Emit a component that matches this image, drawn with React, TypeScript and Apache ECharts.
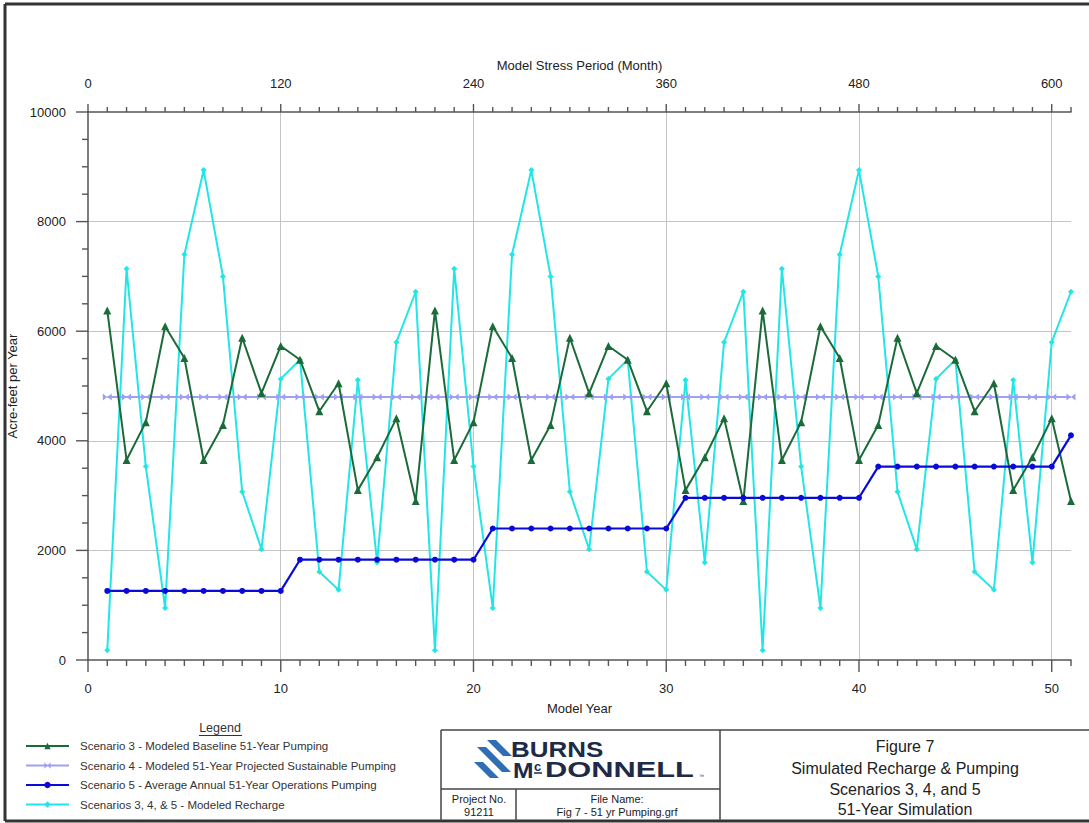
import React, { useEffect, useRef } from "react";
import * as echarts from "echarts";

const years = Array.from({ length: 51 }, (_, i) => i + 1);

const scenario3 = [
  6380, 3650, 4340, 6090, 5510, 3650, 4290, 5880, 4870, 5730, 5480, 4540, 5050, 3100, 3700, 4410, 2900,
  6380, 3650, 4340, 6090, 5510, 3650, 4290, 5880, 4870, 5730, 5480, 4540, 5050, 3100, 3700, 4410, 2900,
  6380, 3650, 4340, 6090, 5510, 3650, 4290, 5880, 4870, 5730, 5480, 4540, 5050, 3100, 3700, 4410, 2900,
];

const scenario4 = [
  4800, 4800, 4800, 4800, 4800, 4800, 4800, 4800, 4800, 4800, 4800, 4800, 4800, 4800, 4800, 4800, 4800,
  4800, 4800, 4800, 4800, 4800, 4800, 4800, 4800, 4800, 4800, 4800, 4800, 4800, 4800, 4800, 4800, 4800,
  4800, 4800, 4800, 4800, 4800, 4800, 4800, 4800, 4800, 4800, 4800, 4800, 4800, 4800, 4800, 4800, 4800,
];

const scenario5 = [
  1260, 1260, 1260, 1260, 1260, 1260, 1260, 1260, 1260, 1260,
  1830, 1830, 1830, 1830, 1830, 1830, 1830, 1830, 1830, 1830,
  2400, 2400, 2400, 2400, 2400, 2400, 2400, 2400, 2400, 2400,
  2960, 2960, 2960, 2960, 2960, 2960, 2960, 2960, 2960, 2960,
  3530, 3530, 3530, 3530, 3530, 3530, 3530, 3530, 3530, 3530,
  4100,
];

const recharge = [
  180, 7140, 3530, 950, 7400, 8940, 7000, 3070, 2020, 5130, 5480, 1610, 1280, 5110, 1780, 5800, 6720,
  180, 7140, 3530, 950, 7400, 8940, 7000, 3070, 2020, 5130, 5480, 1610, 1280, 5110, 1780, 5800, 6720,
  180, 7140, 3530, 950, 7400, 8940, 7000, 3070, 2020, 5130, 5480, 1610, 1280, 5110, 1780, 5800, 6720,
];

const yearTicks = [0, 10, 20, 30, 40, 50];
const monthTicks = [0, 120, 240, 360, 480, 600];
const valueTicks = [0, 2000, 4000, 6000, 8000, 10000];

const seriesNames = [
  "Scenario 3 - Modeled Baseline 51-Year Pumping",
  "Scenario 4 - Modeled 51-Year Projected Sustainable Pumping",
  "Scenario 5 - Average Annual 51-Year Operations Pumping",
  "Scenarios 3, 4, & 5 - Modeled Recharge",
];

const titleLines = [
  "Figure 7",
  "Simulated Recharge & Pumping",
  "Scenarios 3, 4, and 5",
  "51-Year Simulation",
];

const FONT = "'Liberation Sans', Arial, Helvetica, sans-serif";
const AXIS = "#555";
const GRID = "#c4c4c4";
const TXT = "#222";
const C3 = "#1B6B3A";
const C4 = "#A0A0F2";
const C5 = "#0A0AD8";
const CR = "#22E6E6";

const pairs = (vals: number[]) => years.map((y, i) => [y, vals[i]]);

const bowtie = "path://M0,0 L5,5 L0,10 Z M10,0 L5,5 L10,10 Z";

// tick marks: minor every year / 12 months / 500, major at the labelled values
const bottomTickData = [0, ...years].map((v) => [v, 0, yearTicks.includes(v) ? 12 : 6]);
const topTickData = [0, ...years].map((v) => [v * 12, 10000, monthTicks.includes(v * 12) ? 8 : 5]);
const leftTickData = Array.from({ length: 21 }, (_, i) => i * 500).map((v) => [0, v, valueTicks.includes(v) ? 12 : 6]);

export default function App() {
  const ref = useRef<HTMLDivElement>(null);

  useEffect(() => {
    if (!ref.current) return;
    const chart = echarts.init(ref.current, null, { renderer: "svg" });

    const lineEl = (x1: number, y1: number, x2: number, y2: number, w = 1.5, c = "#444") => ({
      type: "line",
      shape: { x1, y1, x2, y2 },
      style: { stroke: c, lineWidth: w },
      silent: true,
    });
    const textEl = (text: string, x: number, y: number, size: number, extra: any = {}) => ({
      type: "text",
      x,
      y,
      style: {
        text,
        fontSize: size,
        fontFamily: FONT,
        fill: "#222",
        textAlign: "center",
        textVerticalAlign: "middle",
        ...extra,
      },
      silent: true,
    });

    const stripe = (x0: number, y0: number, x1: number, y1: number, w: number) => ({
      type: "polygon",
      shape: { points: [[x0, y0], [x0 + w, y0], [x1 + w, y1], [x1, y1]] },
      style: { fill: "#2F6DB5" },
      silent: true,
    });

    const graphics: any[] = [
      lineEl(5, 4, 1089, 4, 3, "#333"),
      lineEl(5, 4, 5, 821, 3, "#333"),
      lineEl(5, 821, 1089, 821, 3, "#333"),
      lineEl(441, 730, 1089, 730, 1.5),
      lineEl(441, 730, 441, 821, 1.5),
      lineEl(720, 730, 720, 821, 1.5),
      lineEl(441, 789, 720, 789, 1.5),
      lineEl(516, 789, 516, 821, 1.5),
      textEl("Legend", 220, 728, 12.5, { fill: "#333" }),
      lineEl(199, 735.5, 242, 735.5, 1, "#333"),
      textEl("Project No.", 479, 799, 11),
      textEl("91211", 479, 812, 11),
      textEl("File Name:", 617, 799, 11),
      textEl("Fig 7 - 51 yr Pumping.grf", 617, 812, 11),
      stripe(487, 740, 503, 756, 9),
      stripe(477, 747, 502, 772, 9),
      stripe(474, 762, 490, 778, 9),
      {
        type: "text",
        x: 511,
        y: 749,
        scaleX: 1.18,
        style: { text: "BURNS", fontSize: 22, fontWeight: "bold", fontFamily: FONT, fill: "#1D2A48", textVerticalAlign: "middle" },
        silent: true,
      },
      {
        type: "text",
        x: 513,
        y: 770,
        scaleX: 1.12,
        style: { text: "M", fontSize: 22, fontWeight: "bold", fontFamily: FONT, fill: "#1D2A48", textVerticalAlign: "middle" },
        silent: true,
      },
      {
        type: "text",
        x: 534,
        y: 766,
        style: { text: "c", fontSize: 13, fontWeight: "bold", fontFamily: FONT, fill: "#1D2A48", textVerticalAlign: "middle" },
        silent: true,
      },
      lineEl(534, 773, 542, 773, 1.5, "#1D2A48"),
      {
        type: "text",
        x: 545,
        y: 770,
        scaleX: 1.4,
        style: { text: "DONNELL", fontSize: 22, fontWeight: "bold", fontFamily: FONT, fill: "#1D2A48", textVerticalAlign: "middle" },
        silent: true,
      },
      {
        type: "text",
        x: 699,
        y: 776,
        style: { text: "™", fontSize: 5, fontFamily: FONT, fill: "#1D2A48", textVerticalAlign: "middle" },
        silent: true,
      },
      textEl(titleLines[0], 905, 746, 16),
      textEl(titleLines[1], 905, 768, 16),
      textEl(titleLines[2], 905, 789, 16),
      textEl(titleLines[3], 905, 809, 16),
    ];

    const axisLabelStyle = { fontSize: 13, color: TXT, fontFamily: FONT, formatter: (v: number) => String(v) };

    const tickSeries = (data: number[][], xAxisIndex: number, dir: "down" | "up" | "left") => ({
      type: "custom",
      coordinateSystem: "cartesian2d",
      xAxisIndex,
      yAxisIndex: 0,
      data,
      clip: false,
      silent: true,
      z: 1,
      renderItem: (_params: any, api: any) => {
        const p = api.coord([api.value(0), api.value(1)]);
        const len = api.value(2);
        const x2 = dir === "left" ? p[0] - len : p[0];
        const y2 = dir === "down" ? p[1] + len : dir === "up" ? p[1] - len : p[1];
        return {
          type: "line",
          shape: { x1: p[0], y1: p[1], x2, y2 },
          style: { stroke: AXIS, lineWidth: 1.4 },
        };
      },
    });

    const option: any = {
      animation: false,
      backgroundColor: "#fff",
      textStyle: { fontFamily: FONT },
      grid: { left: 88, top: 112, right: 18, bottom: 163, containLabel: false, outerBoundsMode: "none" },
      legend: {
        orient: "vertical",
        left: 25,
        top: 740,
        padding: 0,
        itemWidth: 43,
        itemHeight: 8,
        itemGap: 7.5,
        selectedMode: false,
        data: seriesNames,
        textStyle: { fontSize: 11.5, color: "#333", fontFamily: FONT, padding: [0, 0, 0, 6] },
      },
      xAxis: [
        {
          type: "value",
          position: "bottom",
          min: 0,
          max: 51,
          interval: 10,
          name: "Model Year",
          nameLocation: "middle",
          nameGap: 42,
          nameTextStyle: { fontSize: 13, color: TXT, fontFamily: FONT },
          axisLine: { show: true, lineStyle: { color: AXIS, width: 1.5 } },
          axisTick: { show: false },
          axisLabel: { ...axisLabelStyle, margin: 22, customValues: yearTicks },
          splitLine: { show: true, showMinLine: false, showMaxLine: false, lineStyle: { color: GRID, width: 1 } },
        },
        {
          type: "value",
          position: "top",
          min: 0,
          max: 612,
          interval: 120,
          name: "Model Stress Period (Month)",
          nameLocation: "middle",
          nameGap: 40,
          nameTextStyle: { fontSize: 13, color: TXT, fontFamily: FONT },
          axisLine: { show: true, lineStyle: { color: AXIS, width: 1.5 } },
          axisTick: { show: false },
          axisLabel: { ...axisLabelStyle, margin: 22, customValues: monthTicks },
          splitLine: { show: false },
        },
      ],
      yAxis: {
        type: "value",
        min: 0,
        max: 10000,
        interval: 2000,
        name: "Acre-feet per Year",
        nameLocation: "middle",
        nameGap: 50,
        nameTextStyle: { fontSize: 13, color: TXT, fontFamily: FONT },
        axisLine: { show: true, lineStyle: { color: AXIS, width: 1.5 } },
        axisTick: { show: false },
        axisLabel: { ...axisLabelStyle, margin: 22 },
        splitLine: { show: true, showMinLine: false, showMaxLine: false, lineStyle: { color: GRID, width: 1 } },
      },
      series: [
        tickSeries(bottomTickData, 0, "down"),
        tickSeries(topTickData, 1, "up"),
        tickSeries(leftTickData, 0, "left"),
        {
          name: seriesNames[3],
          type: "line",
          xAxisIndex: 0,
          data: pairs(recharge),
          symbol: "diamond",
          symbolSize: 6,
          lineStyle: { color: CR, width: 2 },
          itemStyle: { color: CR },
          emphasis: { disabled: true },
          z: 2,
        },
        {
          name: seriesNames[1],
          type: "line",
          xAxisIndex: 0,
          data: pairs(scenario4),
          symbol: bowtie,
          symbolSize: [9, 7],
          lineStyle: { color: C4, width: 2 },
          itemStyle: { color: C4 },
          emphasis: { disabled: true },
          z: 3,
        },
        {
          name: seriesNames[0],
          type: "line",
          xAxisIndex: 0,
          data: pairs(scenario3),
          symbol: "triangle",
          symbolSize: 8,
          lineStyle: { color: C3, width: 2 },
          itemStyle: { color: C3 },
          emphasis: { disabled: true },
          z: 4,
        },
        {
          name: seriesNames[2],
          type: "line",
          xAxisIndex: 0,
          data: pairs(scenario5),
          symbol: "circle",
          symbolSize: 6,
          lineStyle: { color: C5, width: 2.2 },
          itemStyle: { color: C5 },
          emphasis: { disabled: true },
          z: 5,
        },
      ],
      graphic: graphics,
    };

    chart.setOption(option);
    return () => chart.dispose();
  }, []);

  return (
    <div
      ref={ref}
      style={{ position: "fixed", left: 0, top: 0, width: 1089, height: 823, background: "#fff" }}
    />
  );
}
